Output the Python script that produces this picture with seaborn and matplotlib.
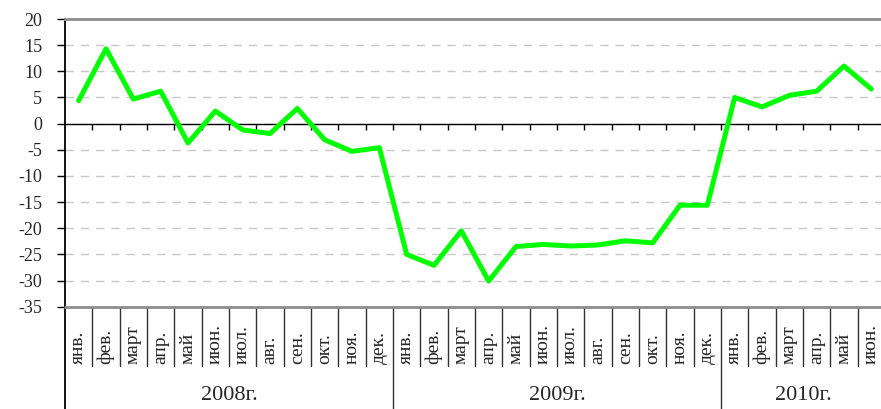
import numpy as np
import pandas as pd
import matplotlib
matplotlib.use('Agg')
import matplotlib.pyplot as plt
import seaborn as sns

# Month abbreviations, year groups and values
months = ['янв.', 'фев.', 'март', 'апр.', 'май', 'июн.',
          'июл.', 'авг.', 'сен.', 'окт.', 'ноя.', 'дек.']
years = ['2008г.', '2009г.', '2010г.']
year_lengths = [12, 12, 6]
month_labels = months * 2 + months[:6]

values = [4.4, 14.3, 4.7, 6.2, -3.7, 2.4, -1.2, -1.9, 2.9, -3.1, -5.3, -4.6,
          -25.0, -27.1, -20.5, -30.1, -23.5, -23.1, -23.4, -23.2, -22.4, -22.8,
          -15.6, -15.6,
          5.0, 3.2, 5.4, 6.2, 11.0, 6.6]

y_ticks = list(range(-35, 21, 5))

df = pd.DataFrame({'idx': np.arange(len(values)), 'value': values})

sns.set_style('white')
plt.rcParams['font.family'] = ['Liberation Serif', 'DejaVu Serif']
plt.rcParams['axes.unicode_minus'] = False

fig = plt.figure(figsize=(8.81, 4.09), dpi=100)
# plot area runs a little past the right edge of the picture
ax = fig.add_axes([65 / 881, 1 - 306.7 / 409, 820 / 881, 287.7 / 409])

n = len(values)
ax.set_xlim(-0.5, n - 0.5)
ax.set_ylim(-35, 20)

# dashed horizontal grid
ax.set_yticks(y_ticks)
ax.grid(axis='y', color='#c8c8c8', linestyle=(0, (6, 5)), linewidth=1)
ax.grid(axis='x', visible=False)

sns.lineplot(data=df, x='idx', y='value', color='#00ff00', linewidth=3.6, ax=ax, zorder=5)
ax.set_xlabel('')
ax.set_ylabel('')

# axis lines
ax.spines['left'].set_color('black')
ax.spines['left'].set_linewidth(1.3)
ax.spines['top'].set_color('#8c8c8c')
ax.spines['top'].set_linewidth(2)
ax.spines['right'].set_visible(False)
ax.spines['bottom'].set_position(('data', 0))
ax.spines['bottom'].set_color('black')
ax.spines['bottom'].set_linewidth(1)
ax.axhline(-35, color='#8c8c8c', linewidth=2, clip_on=False, zorder=4)

# category boundary ticks on the zero line
bounds = np.arange(0.5, n - 1, 1)
ax.set_xticks(bounds)
ax.tick_params(axis='x', direction='out', length=4.5, width=1, color='black',
               labelbottom=False, bottom=True)
ax.tick_params(axis='y', direction='out', length=5.8, width=1, color='black',
               labelsize=13, pad=10.5, left=True)

# separators under the plot
trans = ax.get_xaxis_transform()
year_bounds = np.cumsum(year_lengths)[:-1] - 0.5
for b in bounds:
    low = -0.36 if b in year_bounds else -0.205
    ax.plot([b, b], [0, low], transform=trans, color='#333333', linewidth=1, clip_on=False)
ax.plot([-0.5, -0.5], [0, -0.36], transform=trans, color='black', linewidth=1.3, clip_on=False)

# month labels
for i, lab in enumerate(month_labels):
    ax.text(i, -0.200, lab, transform=trans, rotation=90, ha='center', va='bottom',
            fontsize=14)

# year labels
start = 0
for yr, length in zip(years, year_lengths):
    center = start + (length - 1) / 2
    ax.text(center, -0.307, yr, transform=trans, ha='center', va='center', fontsize=16)
    start += length

fig.savefig('out.png', dpi=100)
